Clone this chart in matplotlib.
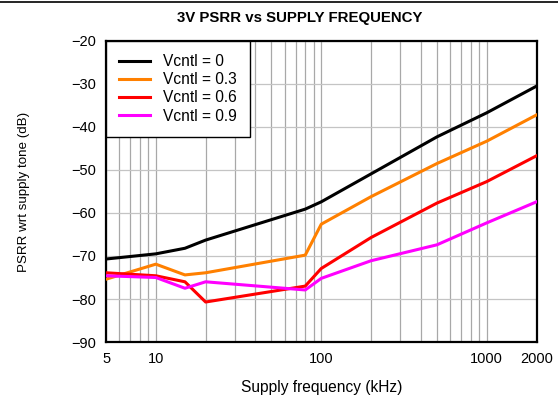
import matplotlib
matplotlib.use("Agg")
import matplotlib.pyplot as plt
from matplotlib.lines import Line2D
from matplotlib.ticker import FixedLocator, NullFormatter, LogLocator

plt.rcParams['font.family'] = ['Liberation Sans', 'DejaVu Sans']

# supply frequency (kHz) and PSRR (dB) for each control voltage
freq_khz = [5, 10, 15, 20, 80, 100, 200, 500, 1000, 2000]
psrr_v0 = [-70.7, -69.5, -68.2, -66.3, -59.1, -57.4, -50.9, -42.3, -36.7, -30.5]
psrr_v03 = [-75.4, -71.9, -74.4, -73.9, -69.8, -62.6, -56.2, -48.5, -43.3, -37.2]
psrr_v06 = [-73.9, -74.6, -76.0, -80.7, -77.0, -72.9, -65.7, -57.7, -52.7, -46.7]
psrr_v09 = [-74.6, -75.0, -77.5, -76.0, -77.9, -75.2, -71.1, -67.4, -62.3, -57.4]

series = [
    ('Vcntl = 0', psrr_v0, 'black'),
    ('Vcntl = 0.3', psrr_v03, '#ff8000'),
    ('Vcntl = 0.6', psrr_v06, '#ff0000'),
    ('Vcntl = 0.9', psrr_v09, '#ff00ff'),
]

x_ticks = [5, 10, 100, 1000, 2000]
y_ticks = [-90, -80, -70, -60, -50, -40, -30, -20]

fig = plt.figure(figsize=(5.58, 3.98), dpi=100)
ax = fig.add_axes([0.19, 0.1407, 0.7715, 0.7563])

for label, vals, col in series:
    ax.plot(freq_khz, vals, color=col, linewidth=2.2, label=label, zorder=3)

ax.set_xscale('log')
ax.set_xlim(5, 2000)
ax.set_ylim(-90, -20)

ax.xaxis.set_major_locator(FixedLocator(x_ticks))
ax.set_xticklabels([str(t) for t in x_ticks])
ax.xaxis.set_minor_locator(LogLocator(base=10, subs=range(2, 10), numticks=20))
ax.xaxis.set_minor_formatter(NullFormatter())
ax.set_yticks(y_ticks)
ax.set_yticklabels(['\u2212' + str(abs(t)) for t in y_ticks])

# grid: darker verticals, lighter horizontals
ax.grid(True, which='both', axis='x', color='#a8a8a8', linewidth=0.9, zorder=1)
ax.grid(True, which='major', axis='y', color='#c4c4c4', linewidth=0.9, zorder=1)
ax.set_axisbelow(True)

ax.tick_params(which='both', length=0, labelsize=10.5, pad=7)
for s in ax.spines.values():
    s.set_linewidth(1.6)
    s.set_color('black')

ax.set_title('3V PSRR vs SUPPLY FREQUENCY', fontsize=10.8, fontweight='bold',
             x=0.45, pad=14)
ax.set_xlabel('Supply frequency (kHz)', fontsize=11.2, labelpad=10)
ax.set_ylabel('PSRR wrt supply tone (dB)', fontsize=9.6, labelpad=30)

leg = ax.legend(loc='upper left', bbox_to_anchor=(0, 1), borderaxespad=0,
                fontsize=11.2, frameon=True, fancybox=False, framealpha=1,
                edgecolor='black', handlelength=2.0, handletextpad=0.8,
                labelspacing=0.2, borderpad=0.85)
leg.get_frame().set_linewidth(1.0)
leg.set_zorder(5)

# thin rule across the top of the figure
fig.add_artist(Line2D([0, 1], [0.994, 0.994], transform=fig.transFigure,
                      color='black', linewidth=1.2))

fig.savefig('out.png', dpi=100)
